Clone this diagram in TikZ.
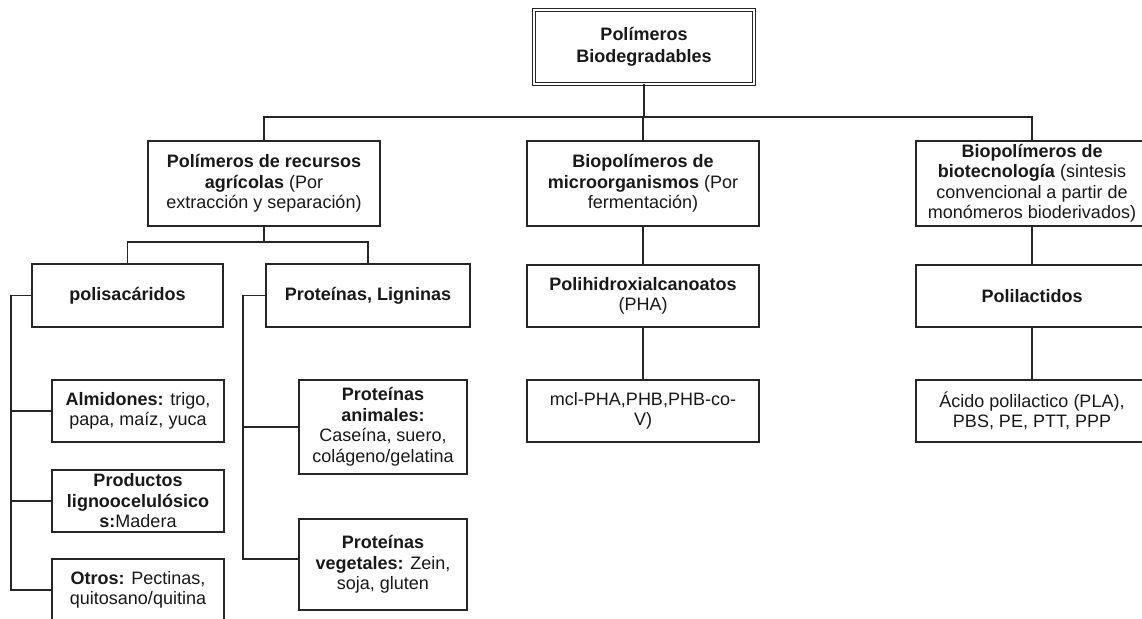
\documentclass[tikz,border=0pt]{standalone}
\usepackage{fontspec}
\setmainfont{Liberation Sans}
\usetikzlibrary{calc}
\begin{document}
\begin{tikzpicture}[x=1pt,y=-1pt,
  box/.style={draw=black!85, line width=1.1pt, fill=white, align=center,
    inner sep=2pt, text=black!90, font=\fontsize{18}{20.5}\selectfont},
  rootbox/.style={box, double=white, double distance=1.8pt, line width=0.9pt,
    minimum width=220pt, minimum height=74pt, font=\fontsize{18}{22.5}\selectfont},
  catbox/.style={box, minimum width=232pt, minimum height=85pt},
  colbox/.style={box, minimum width=232pt, minimum height=62pt},
  leafbox/.style={box, minimum width=172pt, minimum height=62pt},
  protbox/.style={box, minimum width=168pt},
  wire/.style={draw=black!85, line width=1.1pt},
]
\useasboundingbox (0,0) rectangle (1142,618);

% top level
\node[rootbox] (root) at (644,47) {\textbf{Polímeros}\\\textbf{Biodegradables}};

% main categories
\node[catbox] (agr) at (264,183.5)
  {\textbf{Polímeros de recursos}\\\textbf{agrícolas} (Por\\extracción y separación)};
\node[catbox] (micro) at (643,183.5)
  {\textbf{Biopolímeros de}\\\textbf{microorganismos} (Por\\fermentación)};
\node[catbox] (biotec) at (1032,183.5)
  {\textbf{Biopolímeros de}\\\textbf{biotecnología} (sintesis\\convencional a partir de\\monómeros bioderivados)};

% second level
\node[box, minimum width=191pt, minimum height=63pt] (polis) at (127.5,295.5) {\textbf{polisacáridos}};
\node[box, minimum width=204pt, minimum height=63pt] (prot) at (368,295.5) {\textbf{Proteínas, Ligninas}};
\node[colbox] (pha) at (643,296) {\textbf{Polihidroxialcanoatos}\\(PHA)};
\node[colbox] (polil) at (1032,296) {\textbf{Polilactidos}};

% third level, columns
\node[colbox] (mcl) at (643,411) {mcl-PHA,PHB,PHB-co-\\V)};
\node[colbox] (acido) at (1032,411) {Ácido polilactico (PLA),\\PBS, PE, PTT, PPP};

% polysaccharides
\node[leafbox] (almid) at (138,411) {\textbf{Almidones:} trigo,\\papa, maíz, yuca};
\node[leafbox] (prod) at (138,501) {\textbf{Productos}\\\textbf{lignoocelulósico}\\\textbf{s:}Madera};
\node[leafbox] (otros) at (138,590) {\textbf{Otros:} Pectinas,\\quitosano/quitina};

% proteins
\node[protbox, minimum height=94pt] (panim) at (383,427)
  {\textbf{Proteínas}\\\textbf{animales:}\\Caseína, suero,\\colágeno/gelatina};
\node[protbox, minimum height=91pt] (pveg) at (383,564.5)
  {\textbf{Proteínas}\\\textbf{vegetales:} Zein,\\soja, gluten};

% junction points and rails
\coordinate (j1) at (644,117);
\coordinate (j2) at (264,242);
\coordinate (railA) at (11,0);
\coordinate (railB) at (243,0);

% connectors
\draw[wire] (root.south) -- (j1);
\draw[wire] (agr.north) |- (j1) -| (biotec.north);
\draw[wire] (micro.north) -- (micro.north |- j1);

\draw[wire] (agr.south) -- (j2);
\draw[wire] (polis.north) |- (j2) -| (prot.north);

\draw[wire] (micro.south) -- (pha.north);
\draw[wire] (pha.south) -- (mcl.north);
\draw[wire] (biotec.south) -- (polil.north);
\draw[wire] (polil.south) -- (acido.north);

\draw[wire] (polis.west) -- (polis.west -| railA) |- (otros.west);
\draw[wire] (almid.west) -- (almid.west -| railA);
\draw[wire] (prod.west) -- (prod.west -| railA);

\draw[wire] (prot.west) -- (prot.west -| railB) |- ([yshift=5.5pt]pveg.west);
\draw[wire] (panim.west) -- (panim.west -| railB);
\end{tikzpicture}
\end{document}
